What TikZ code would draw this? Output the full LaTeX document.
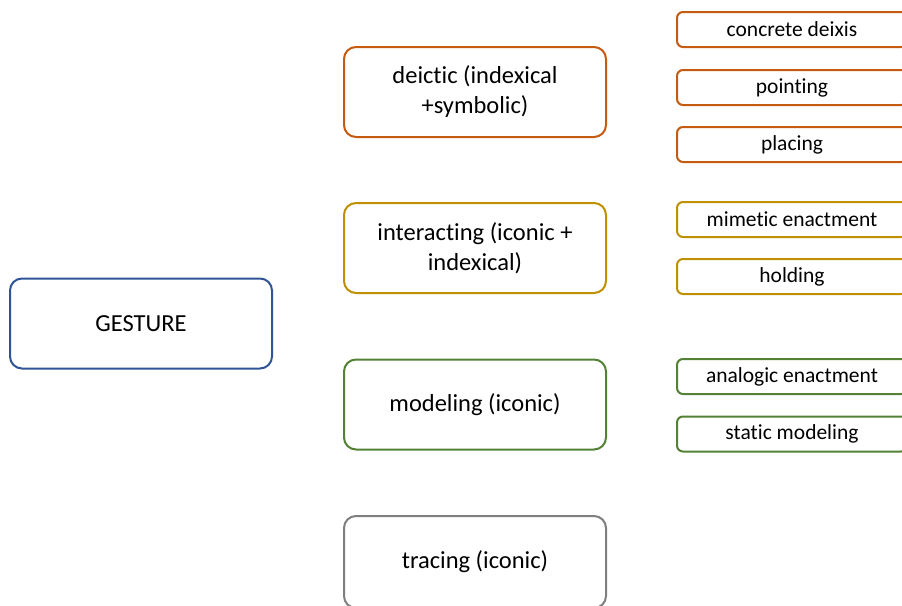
\documentclass[tikz,border=0pt]{standalone}
\usepackage{fontspec}
\setmainfont[Ligatures=NoCommon]{Carlito}
\definecolor{cblue}{HTML}{2F5597}
\definecolor{corange}{HTML}{C55A11}
\definecolor{cgold}{HTML}{BF9000}
\definecolor{cgreen}{HTML}{538135}
\definecolor{cgray}{HTML}{7F7F7F}
\tikzset{
  bigbox/.style={draw=#1, line width=2pt, rounded corners=12pt, minimum width=262pt, minimum height=90pt, align=center, font=\fontsize{24.5}{30}\selectfont, inner sep=0pt, fill=white, text=black},
  smallbox/.style={draw=#1, line width=2pt, rounded corners=6pt, minimum width=230pt, minimum height=35pt, align=center, font=\fontsize{21.5}{25}\selectfont, inner sep=0pt, fill=white, text=black},
}
\begin{document}
\begin{tikzpicture}[x=1pt,y=-1pt]
\useasboundingbox (0,0) rectangle (902,605);
\clip (0,0) rectangle (902,605);
\node[bigbox=cblue] (gesture) at (141,323.5) {GESTURE};
\node[bigbox=corange] (deictic) at (475,92) {deictic (indexical\\+symbolic)};
\node[bigbox=cgold] (interacting) at (475,248) {interacting (iconic +\\indexical)};
\node[bigbox=cgreen] (modeling) at (475,404.5) {modeling (iconic)};
\node[bigbox=cgray, minimum height=92pt] (tracing) at (475,562) {tracing (iconic)};
\node[smallbox=corange] (concrete) at (792,29.5) {concrete deixis};
\node[smallbox=corange] (pointing) at (792,87.5) {pointing};
\node[smallbox=corange] (placing) at (792,144.5) {placing};
\node[smallbox=cgold] (mimetic) at (792,219.5) {mimetic enactment};
\node[smallbox=cgold] (holding) at (792,276.5) {holding};
\node[smallbox=cgreen] (analogic) at (792,376.5) {analogic enactment};
\node[smallbox=cgreen] (static) at (792,434) {static modeling};
\end{tikzpicture}
\end{document}
